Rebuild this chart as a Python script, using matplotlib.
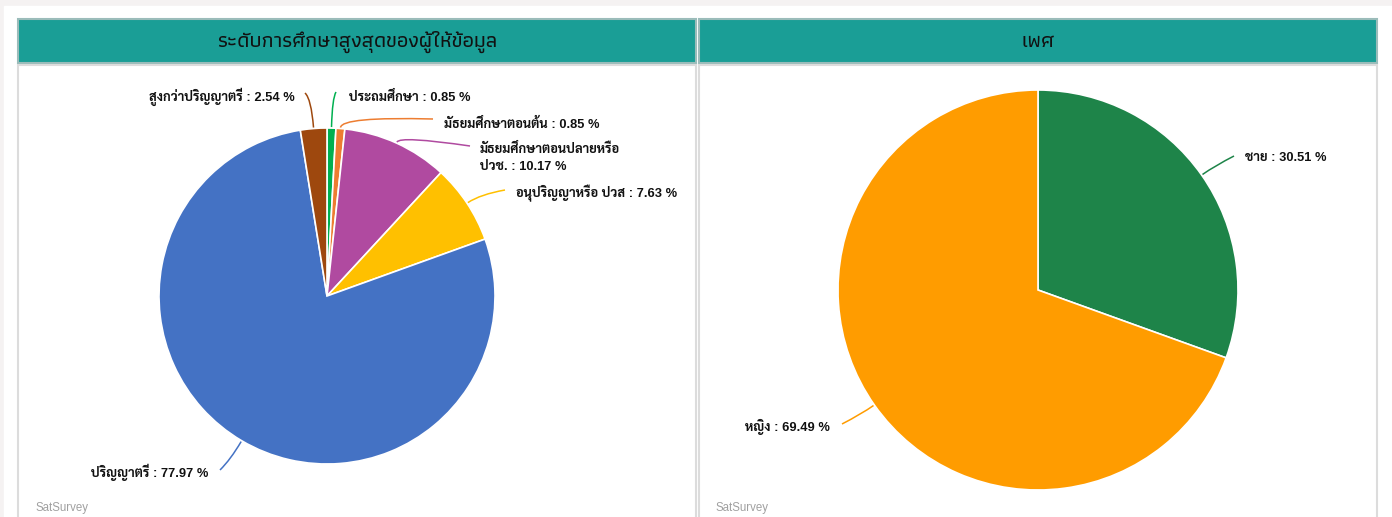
import numpy as np
import matplotlib
matplotlib.use("Agg")
import matplotlib.pyplot as plt
from matplotlib import font_manager
from matplotlib.patches import Rectangle, PathPatch
from matplotlib.path import Path

# ---------------- data ----------------
edu_labels = ["ประถมศึกษา", "มัธยมศึกษาตอนต้น", "มัธยมศึกษาตอนปลายหรือ\nปวช.",
              "อนุปริญญาหรือ ปวส", "ปริญญาตรี", "สูงกว่าปริญญาตรี"]
edu_values = [0.85, 0.85, 10.17, 7.63, 77.97, 2.54]
edu_colors = ["#00b050", "#ed7d31", "#b04aa0", "#ffc000", "#4472c4", "#9e480e"]

sex_labels = ["ชาย", "หญิง"]
sex_values = [30.51, 69.49]
sex_colors = ["#1e8449", "#ff9c00"]

titles = ["ระดับการศึกษาสูงสุดของผู้ให้ข้อมูล", "เพศ"]
credit = "SatSurvey"

# ---------------- fonts ----------------
installed = {f.name for f in font_manager.fontManager.ttflist}
bold_thai = {f.name for f in font_manager.fontManager.ttflist
             if f.weight in (600, 700, "bold", "semibold")}
thai_pick = [n for n in ["Noto Sans Thai", "Sarabun", "Noto Sans Thai Looped",
                         "Loma", "Garuda", "Tlwg Typo"] if n in bold_thai][:1] or ["Loma"]
TITLE_FAM = [n for n in ["Athiti", "Loma"] if n in installed] + ["DejaVu Sans"]
LABEL_FAM = ["Liberation Sans"] + thai_pick + ["DejaVu Sans"]
plt.rcParams["font.family"] = LABEL_FAM

W, H = 1392, 517
fig = plt.figure(figsize=(W / 100, H / 100), dpi=100)
ax = fig.add_axes([0, 0, 1, 1])


def Y(y):
    return H - y


# background
ax.add_patch(Rectangle((0, 0), W, H, color="#f5f2f2", zorder=0))
ax.add_patch(Rectangle((4, 0), W - 4, Y(6), color="white", zorder=0))

panels = [(17, 697), (698, 1378)]
for (x0, x1), t in zip(panels, titles):
    ax.add_patch(Rectangle((x0 + 1, Y(63)), x1 - x0 - 2, 44, facecolor="#1a9e96",
                           edgecolor="#9bbcba", lw=1.5, zorder=1))
    ax.add_patch(Rectangle((x0 + 1, -5), x1 - x0 - 2, Y(65) + 5, facecolor="white",
                           edgecolor="#dcdcdc", lw=1.5, zorder=1))
    ax.text((x0 + x1) / 2, Y(42), t, ha="center", va="center", fontsize=15.5,
            fontweight="medium", color="#111111", family=TITLE_FAM, zorder=3)
    ax.text(x0 + 18, Y(508), credit, ha="left", va="center", fontsize=8.3,
            color="#a0a0a0", family=["Liberation Sans", "DejaVu Sans"], zorder=3)


def draw_pie(values, colors, labels, center, radius, layout):
    wedges, _ = ax.pie(values, colors=colors, startangle=90, counterclock=False,
                       center=center, radius=radius, frame=True,
                       wedgeprops=dict(edgecolor="white", linewidth=1.2))
    for w in wedges:
        w.set_zorder(2)
    for w, lab, v, c, (ex, ey, tx, ty, ha, ext) in zip(wedges, labels, values, colors, layout):
        ang = np.deg2rad((w.theta1 + w.theta2) / 2)
        sx = center[0] + (radius + 1) * np.cos(ang)
        sy = center[1] + (radius + 1) * np.sin(ang)
        cx = center[0] + (radius + ext) * np.cos(ang)
        cy = center[1] + (radius + ext) * np.sin(ang)
        path = Path([(sx, sy), (cx, cy), (ex, Y(ey))],
                    [Path.MOVETO, Path.CURVE3, Path.CURVE3])
        ax.add_patch(PathPatch(path, facecolor="none", edgecolor=c, lw=1.1, zorder=3))
        ax.text(tx, Y(ty), f"{lab} : {v:.2f} %", ha=ha, va="center", fontsize=9.3,
                fontweight="bold", color="#111111", family=LABEL_FAM,
                linespacing=1.5, zorder=4)


# (leader end x, end y, text x, text y, align, radial extension)
edu_layout = [(336, 92, 349, 97, "left", 30),
              (433, 119, 444, 124, "left", 12),
              (470, 146, 480, 158, "left", 8),
              (505, 190, 516, 193, "left", 16),
              (220, 470, 208, 472, "right", 22),
              (305, 93, 295, 97, "right", 30)]
draw_pie(edu_values, edu_colors, edu_labels, (327, Y(296)), 168, edu_layout)

sex_layout = [(1234, 156, 1245, 158, "left", 16),
              (842, 424, 830, 427, "right", 16)]
draw_pie(sex_values, sex_colors, sex_labels, (1038, Y(290)), 200, sex_layout)

ax.set_xlim(0, W)
ax.set_ylim(0, H)
ax.set_aspect("auto")
ax.axis("off")

fig.savefig("out.png", dpi=100)
